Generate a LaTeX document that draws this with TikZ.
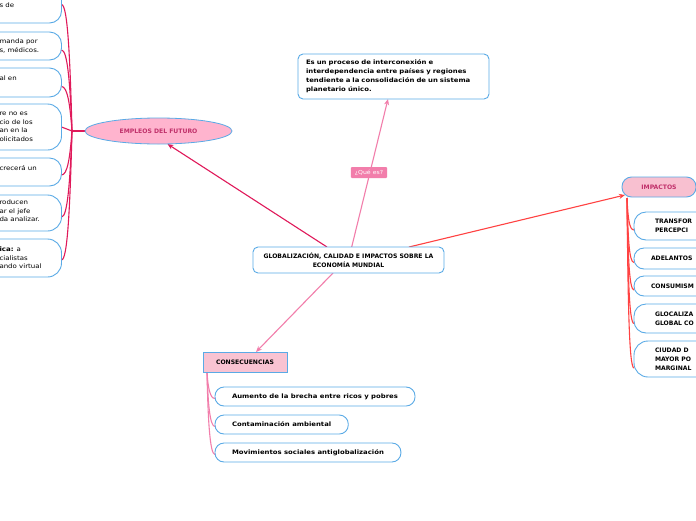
\documentclass[tikz,border=0pt]{standalone}
\usepackage{fontspec}
\setmainfont{DejaVu Sans}
\newfontfamily\widefont{DejaVu Sans}[FakeStretch=1.13]
\usetikzlibrary{arrows.meta,shapes.geometric,calc,backgrounds}
\definecolor{bblue}{HTML}{5AAAE6}
\definecolor{crim}{HTML}{E0195A}
\definecolor{pinkc}{HTML}{F27EAB}
\definecolor{redc}{HTML}{FF4242}
\definecolor{ellfill}{HTML}{FFB4CE}
\definecolor{pinktext}{HTML}{C0306A}
\definecolor{impfill}{HTML}{F8C0D0}
\definecolor{consfill}{HTML}{F9C3D2}
\begin{document}
\begin{tikzpicture}[x=1pt,y=-1pt,
  every node/.style={inner sep=0pt, outer sep=0pt},
  bx/.style={draw=bblue, line width=0.9pt, fill=white, rounded corners=#1},
  bx/.default=5pt,
  bfont/.style={font=\fontsize{6.1}{9}\selectfont\bfseries},
  wfont/.style={font=\fontsize{6.1}{9}\selectfont\widefont\bfseries},
  nfont/.style={font=\fontsize{6.2}{8.6}\selectfont\widefont},
  crl/.style={draw=crim, line width=1.1pt},
  pkl/.style={draw=pinkc, line width=1.1pt},
  rdl/.style={draw=redc, line width=1.1pt},
  tip/.style={-{Stealth[length=6pt,width=5pt]}}
]
\clip (0,0) rectangle (696,520);

% central and main nodes
\node[bx=5pt, bfont, minimum width=191pt, minimum height=26pt, align=center, anchor=north west] (main) at (253,247) {GLOBALIZACIÓN, CALIDAD E IMPACTOS SOBRE LA\\ECONOMÍA MUNDIAL};
\node[bx=5pt, wfont, text width=175pt, inner xsep=8pt, minimum height=45pt, align=left, anchor=north west] (def) at (298,54) {Es un proceso de interconexión e\\interdependencia entre países y regiones\\tendiente a la consolidación de un sistema\\planetario único.};
\node[ellipse, draw=bblue, fill=ellfill, line width=0.8pt, minimum width=147pt, minimum height=26pt, text=pinktext, bfont] (emp) at (158.5,131) {EMPLEOS DEL FUTURO};
\node[bx=9.5pt, fill=impfill, text=pinktext, bfont, minimum width=74pt, minimum height=20pt, anchor=north west] (imp) at (622,177) {IMPACTOS};
\node[draw=bblue, fill=consfill, line width=0.9pt, bfont, minimum width=84pt, minimum height=20pt, anchor=north west] (cons) at (203,352) {CONSECUENCIAS};
\node[fill=pinkc, text=white, font=\fontsize{5.5}{6}\selectfont\widefont, inner xsep=4pt, minimum height=11pt, rounded corners=1pt] (q) at (369,172.5) {¿Qué es?};

% consecuencias children
\node[bx=9pt, wfont, inner xsep=17pt, minimum height=19pt, anchor=west] (c1) at (215,396.5) {Aumento de la brecha entre ricos y pobres};
\node[bx=9pt, wfont, inner xsep=17pt, minimum height=19pt, anchor=west] (c2) at (215,424.5) {Contaminación ambiental};
\node[bx=9pt, wfont, inner xsep=17pt, minimum height=19pt, anchor=west] (c3) at (215,452.5) {Movimientos sociales antiglobalización};

% impactos children
\node[bx=12pt, bfont, text width=150pt, inner xsep=21pt, minimum height=28pt, align=left, anchor=north west] (r1) at (634,212) {TRANSFOR\\PERCEPCI};
\node[bx=10pt, bfont, text width=150pt, inner xsep=17pt, minimum height=21pt, align=left, anchor=north west] (r2) at (634,248) {ADELANTOS};
\node[bx=10pt, bfont, text width=150pt, inner xsep=17pt, minimum height=20pt, align=left, anchor=north west] (r3) at (634,276) {CONSUMISM};
\node[bx=12pt, bfont, text width=150pt, inner xsep=21pt, minimum height=29pt, align=left, anchor=north west] (r4) at (634,304) {GLOCALIZA\\GLOBAL CO};
\node[bx=14pt, bfont, text width=150pt, inner xsep=21pt, minimum height=36pt, align=left, anchor=north west] (r5) at (634,341) {CIUDAD D\\MAYOR PO\\MARGINAL};

% empleos children (boxes)
\node[bx=12pt, minimum width=200pt, minimum height=43pt, anchor=north east] (l1) at (61.5,-20) {};
\node[bx=12pt, minimum width=200pt, minimum height=28pt, anchor=north east] (l2) at (61.5,32) {};
\node[bx=12pt, minimum width=200pt, minimum height=29pt, anchor=north east] (l3) at (61.5,68) {};
\node[bx=14pt, minimum width=200pt, minimum height=46pt, anchor=north east] (l4) at (61.5,104) {};
\node[bx=12pt, minimum width=200pt, minimum height=28pt, anchor=north east] (l5) at (61.5,158) {};
\node[bx=14pt, minimum width=200pt, minimum height=36pt, anchor=north east] (l6) at (61.5,195) {};
\node[bx=14pt, minimum width=200pt, minimum height=38pt, anchor=north east] (l7) at (61.5,239) {};
\node[nfont, anchor=west, align=left] (t1) at (-0.5,5) {s de};
\node[nfont, anchor=west, align=left] (t2) at (-0.5,46) {manda por\\s, médicos.};
\node[nfont, anchor=west, align=left] (t3) at (-0.5,78) {al en};
\node[nfont, anchor=west, align=left] (t4) at (-0.5,127) {re no es\\cio de los\\an en la\\olicitados};
\node[nfont, anchor=west, align=left] (t5) at (-0.5,168) {crecerá un};
\node[nfont, anchor=west, align=left] (t6) at (-0.5,211) {roducen\\ar el jefe\\da analizar.};
\node[nfont, anchor=west, align=left] (t7) at (-0.5,258) {\textbf{ica:} a\\cialistas\\ando virtual};

\begin{scope}[on background layer]
\fill[white] (0,0) rectangle (696,520);
% main connectors
\draw[pkl, tip] (main) -- (def);
\draw[crl, tip] ($(main.north west)+(74,0)$) -- ($(emp.south)+(9,0)$);
\draw[rdl, tip] ($(main.north west)+(156,0)$) -- ($(imp.south west)+(3,-2)$);
\draw[pkl, tip] ($(main.south west)+(80,0)$) -- ($(cons.north)+(11,0)$);
% left branch
\coordinate (jl) at (72,131);
\draw[crl] (emp.west) -- (jl);
\draw[crl] (jl) -- (l4.east);
\foreach \n/\o/\d in {l1/3/126.5, l2/4/81, l3/4/44.5, l5/3/-44, l6/4/-86, l7/2/-129}{
  \draw[crl] (jl) .. controls +(-2,-0.6*\d) and +(6,0) .. ($(\n.east)+(0,\o)$);
}
% right branch
\coordinate (jr) at (627,198);
\foreach \n/\o/\d in {r1/4/32, r2/4/64.5, r3/4/92, r4/5/125.5, r5/9/170}{
  \draw[rdl] (jr) .. controls +(1,0.6*\d) and +(-5,0) .. ($(\n.west)+(0,\o)$);
}
% consecuencias branch
\coordinate (jc) at ($(cons.south west)+(4,0)$);
\foreach \n/\d in {c1/26.5, c2/54.5, c3/82.5}{
  \draw[pkl] (jc) .. controls +(1,0.6*\d) and +(-5,0) .. ($(\n.west)+(0,2)$);
}
\end{scope}
\end{tikzpicture}
\end{document}
